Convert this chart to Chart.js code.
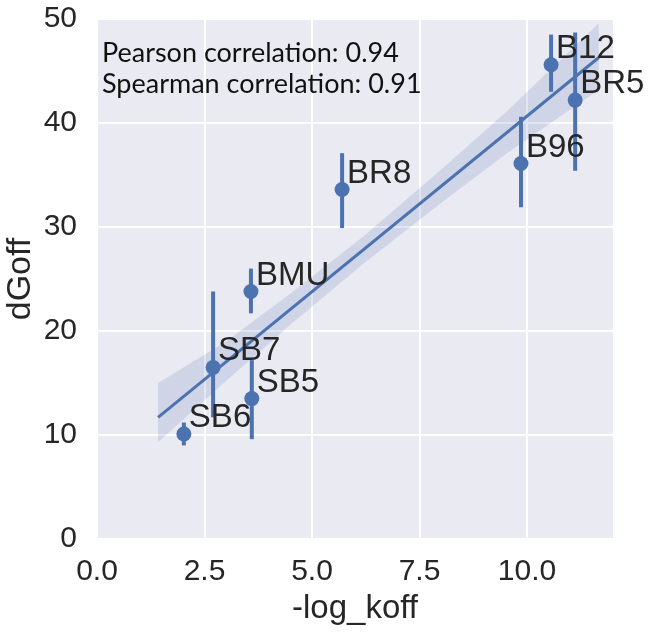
<!DOCTYPE html>
<html>
<head>
<meta charset="utf-8">
<script src="https://cdn.jsdelivr.net/npm/chart.js@4"></script>
<style>
  html, body { margin: 0; padding: 0; background: #ffffff; }
  #wrap { width: 654px; height: 635px; }
</style>
</head>
<body>
<div id="wrap"><canvas id="regChart" width="654" height="635"></canvas></div>
<script>
// data
var pointNames = ["SB6", "SB7", "SB5", "BMU", "BR8", "B96", "B12", "BR5"];
var logKoff = [2.02, 2.70, 3.60, 3.58, 5.70, 9.86, 10.56, 11.12];
var dGoff = [10.1, 16.5, 13.5, 23.8, 33.6, 36.1, 45.6, 42.2];
var errLow = [9.0, 11.7, 9.6, 21.7, 29.9, 31.9, 43.0, 35.4];
var errHigh = [11.2, 23.8, 17.2, 26.0, 37.1, 40.6, 48.5, 48.7];

// fitted line and its confidence band
var fitX = [1.42, 11.67];
var fitY = [11.7, 46.3];
var bandX = [1.42, 3.0, 4.5, 6.2, 8.0, 9.5, 11.67];
var bandLow = [9.3, 15.2, 20.6, 26.5, 32.3, 37.0, 43.2];
var bandHigh = [15.0, 19.0, 23.6, 29.1, 35.5, 41.0, 49.6];

var xTickValues = [0, 2.5, 5, 7.5, 10];
var yTickValues = [0, 10, 20, 30, 40, 50];
var statLines = ["Pearson correlation: 0.94", "Spearman correlation: 0.91"];

var blue = "#4c72b0";
var textColor = "#262626";
var regChart = null;

function toPoints(xs, ys) {
    return xs.map(function (x, i) { return { x: x, y: ys[i] }; });
}

// plot background like seaborn darkgrid
var bgPlugin = {
    id: "plotBg",
    beforeDraw: function (chart) {
        var a = chart.chartArea;
        var ctx = chart.ctx;
        ctx.save();
        ctx.fillStyle = "#eaeaf2";
        ctx.fillRect(a.left, a.top, a.right - a.left, a.bottom - a.top);
        ctx.restore();
    }
};

// point names and the correlation text
var textPlugin = {
    id: "texts",
    afterDatasetsDraw: function (chart) {
        var ctx = chart.ctx;
        var xs = chart.scales.x;
        var ys = chart.scales.y;
        ctx.save();
        ctx.fillStyle = textColor;
        ctx.font = "33px 'Liberation Sans', Arial, sans-serif";
        ctx.textBaseline = "middle";
        ctx.textAlign = "left";
        pointNames.forEach(function (name, i) {
            var px = xs.getPixelForValue(logKoff[i]);
            var py = ys.getPixelForValue(dGoff[i]);
            ctx.fillText(name, px + 5, py - 16);
        });
        var a = chart.chartArea;
        ctx.fillStyle = "#111111";
        ctx.font = "27px Lato, 'Open Sans', sans-serif";
        ctx.textBaseline = "alphabetic";
        statLines.forEach(function (line, i) {
            ctx.fillText(line, a.left + 5, a.top + 43 + i * 31);
        });
        ctx.restore();
    }
};

function buildDatasets() {
    var sets = [];
    sets.push({
        label: "band low",
        data: toPoints(bandX, bandLow),
        showLine: true,
        borderWidth: 0,
        pointRadius: 0,
        fill: false,
        order: 10
    });
    sets.push({
        label: "band high",
        data: toPoints(bandX, bandHigh),
        showLine: true,
        borderWidth: 0,
        pointRadius: 0,
        backgroundColor: "rgba(76,114,176,0.17)",
        fill: "-1",
        order: 9
    });
    sets.push({
        label: "fit",
        data: toPoints(fitX, fitY),
        showLine: true,
        borderColor: blue,
        borderWidth: 3,
        pointRadius: 0,
        fill: false,
        order: 5
    });
    // one small dataset per error bar
    logKoff.forEach(function (x, i) {
        sets.push({
            label: "err " + pointNames[i],
            data: [{ x: x, y: errLow[i] }, { x: x, y: errHigh[i] }],
            showLine: true,
            borderColor: blue,
            borderWidth: 4,
            pointRadius: 0,
            fill: false,
            order: 3
        });
    });
    sets.push({
        label: "points",
        data: toPoints(logKoff, dGoff),
        pointRadius: 7.5,
        pointBackgroundColor: blue,
        pointBorderWidth: 0,
        order: 1
    });
    return sets;
}

function initializeChart() {
    var canvas = document.getElementById("regChart");
    if (!canvas) {
        console.error("canvas not found");
        return;
    }
    var ctx = canvas.getContext("2d");
    if (regChart) {
        regChart.destroy();
    }
    regChart = new Chart(ctx, {
        type: "scatter",
        data: { datasets: buildDatasets() },
        options: {
            responsive: false,
            animation: false,
            layout: { padding: { top: 19, right: 41, left: 0, bottom: 0 } },
            plugins: {
                legend: { display: false },
                tooltip: { enabled: false }
            },
            scales: {
                x: {
                    type: "linear",
                    min: 0,
                    max: 12,
                    afterFit: function (s) {
                        s.height = 96;
                        s.paddingLeft = 0;
                        s.paddingRight = 0;
                    },
                    afterBuildTicks: function (s) {
                        s.ticks = xTickValues.map(function (v) { return { value: v }; });
                    },
                    border: { display: false },
                    grid: { color: "#ffffff", lineWidth: 2, drawTicks: false },
                    ticks: {
                        padding: 15,
                        color: textColor,
                        font: { family: "'Liberation Sans', Arial, sans-serif", size: 30 },
                        callback: function (v) { return Number(v).toFixed(1); }
                    },
                    title: {
                        display: true,
                        text: "-log_koff",
                        color: textColor,
                        font: { family: "'Liberation Sans', Arial, sans-serif", size: 33 },
                        padding: { top: 0, bottom: 6 }
                    }
                },
                y: {
                    type: "linear",
                    min: 0,
                    max: 50,
                    afterFit: function (s) {
                        s.width = 97;
                        s.paddingTop = 0;
                        s.paddingBottom = 0;
                    },
                    afterBuildTicks: function (s) {
                        s.ticks = yTickValues.map(function (v) { return { value: v }; });
                    },
                    border: { display: false },
                    grid: { color: "#ffffff", lineWidth: 2, drawTicks: false },
                    ticks: {
                        padding: 20,
                        color: textColor,
                        font: { family: "'Liberation Sans', Arial, sans-serif", size: 30 },
                        callback: function (v) { return String(v); }
                    },
                    title: {
                        display: true,
                        text: "dGoff",
                        color: textColor,
                        font: { family: "'Liberation Sans', Arial, sans-serif", size: 34 },
                        padding: { top: 0, bottom: 0 }
                    }
                }
            }
        },
        plugins: [bgPlugin, textPlugin]
    });
}

document.addEventListener("DOMContentLoaded", function () {
    initializeChart();
});
</script>
</body>
</html>
